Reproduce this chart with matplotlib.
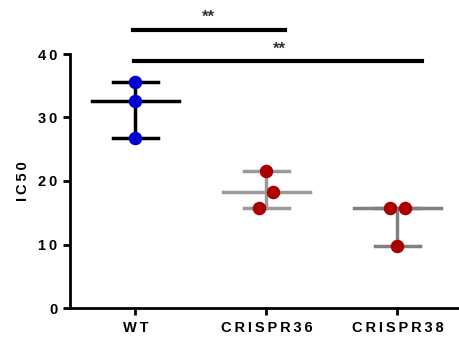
import numpy as np
import matplotlib
matplotlib.use("Agg")
import matplotlib.pyplot as plt

plt.rcParams['font.family'] = ['Liberation Sans', 'DejaVu Sans']
plt.rcParams['font.weight'] = 'bold'

# data
groups = ["WT", "CRISPR36", "CRISPR38"]
wt = [35.6, 32.6, 26.8]
crispr36 = [21.6, 18.2, 15.8]
crispr38 = [15.7, 15.7, 9.8]
jitter = [[0.0, 0.0, 0.0], [0.0, 0.05, -0.06], [-0.06, 0.06, 0.0]]
yticks = [0, 10, 20, 30, 40]

line_cols = ["black", "#9a9a9a", "#808080"]
dot_cols = ["#0000cc", "#aa0000", "#aa0000"]

def spaced(s):
    return "\u2009".join(s)

fig = plt.figure(figsize=(4.59, 3.43), dpi=100)
ax = fig.add_axes([70/459, 35/343, 389/459, 254/343])

for i, vals in enumerate([wt, crispr36, crispr38]):
    med = np.median(vals)
    lo, hi = min(vals), max(vals)
    c = line_cols[i]
    ax.plot([i, i], [lo, hi], color=c, lw=2.5, zorder=2)
    ax.plot([i - 0.335, i + 0.335], [med, med], color=c, lw=2.5, zorder=2)
    ax.plot([i - 0.17, i + 0.17], [lo, lo], color=c, lw=2.5, zorder=2)
    ax.plot([i - 0.17, i + 0.17], [hi, hi], color=c, lw=2.5, zorder=2)
    ax.scatter(np.array(jitter[i]) + i, vals, s=95, color=dot_cols[i], zorder=3, lw=0)

# significance bars
ax.plot([-0.02, 1.14], [43.8, 43.8], color="black", lw=3, clip_on=False)
ax.text(0.56, 44.6, "**", ha="center", va="bottom", fontsize=12, color="#333333")
ax.plot([-0.01, 2.19], [38.9, 38.9], color="black", lw=3, clip_on=False)
ax.text(1.10, 39.6, "**", ha="center", va="bottom", fontsize=12, color="#333333")

ax.set_xlim(-0.5, 2.47)
ax.set_ylim(0, 40)
ax.set_xticks(range(len(groups)))
ax.set_xticklabels([spaced(g) for g in groups], fontsize=10.5, fontweight="bold")
ax.set_yticks(yticks)
ax.set_yticklabels([spaced(str(t)) for t in yticks], fontsize=10.5, fontweight="bold")
ax.set_ylabel(spaced("IC50"), fontsize=10.5, fontweight="bold", labelpad=6)

for s in ["top", "right"]:
    ax.spines[s].set_visible(False)
for s in ["left", "bottom"]:
    ax.spines[s].set_linewidth(2)
ax.tick_params(width=2, length=5, pad=4)

fig.savefig("out.png", dpi=100)
